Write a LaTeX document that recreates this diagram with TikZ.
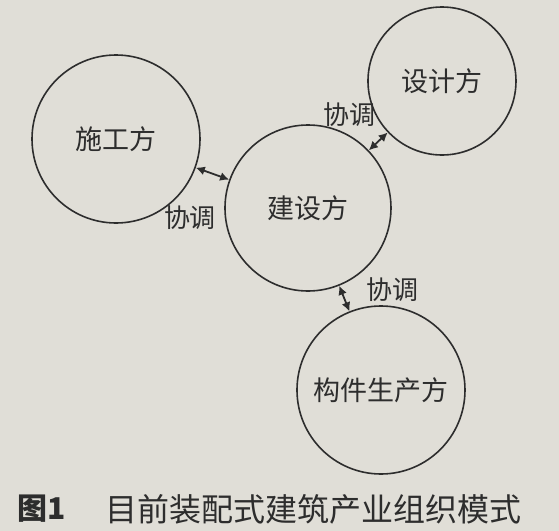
\documentclass[tikz,border=0pt]{standalone}
\usepackage{fontspec}
\setmainfont{Noto Sans CJK SC}
\usetikzlibrary{arrows.meta}
\definecolor{paper}{RGB}{224,222,215}
\definecolor{ink}{RGB}{45,45,45}
\tikzset{
  party/.style={draw=ink, line width=0.8pt, circle, inner sep=0pt, text=ink, font=\fontsize{13.5}{15}\selectfont},
  link/.style={{Latex[length=4.5pt,width=4.5pt]}-{Latex[length=4.5pt,width=4.5pt]}, draw=ink, line width=0.9pt},
  note/.style={text=ink, font=\fontsize{13}{15}\selectfont}
}
\begin{document}
\begin{tikzpicture}[x=0.5pt,y=-0.5pt]
\fill[paper] (0,0) rectangle (559,531);
\node[party, minimum size=84pt] (sg) at (116,139) {施工方};
\node[party, minimum size=83pt] (js) at (308,208) {建设方};
\node[party, minimum size=74pt] (sj) at (442,81) {设计方};
\node[party, minimum size=84pt] (gj) at (381,390) {构件生产方};
\draw[link] (sg) -- (js);
\draw[link] (js) -- (sj);
\draw[link] (js) -- (gj);
\node[note] (x1) at (190,218) {协调};
\node[note] (x2) at (350,115) {协调};
\node[note] (x3) at (393,290) {协调};
\node[text=ink, font=\bfseries\fontsize{15}{17}\selectfont] (fig) at (42,509) {图1};
\node[text=ink, font=\fontsize{16}{18}\selectfont, anchor=west] (cap) at (98,509) {目前装配式建筑产业组织模式};
\end{tikzpicture}
\end{document}
